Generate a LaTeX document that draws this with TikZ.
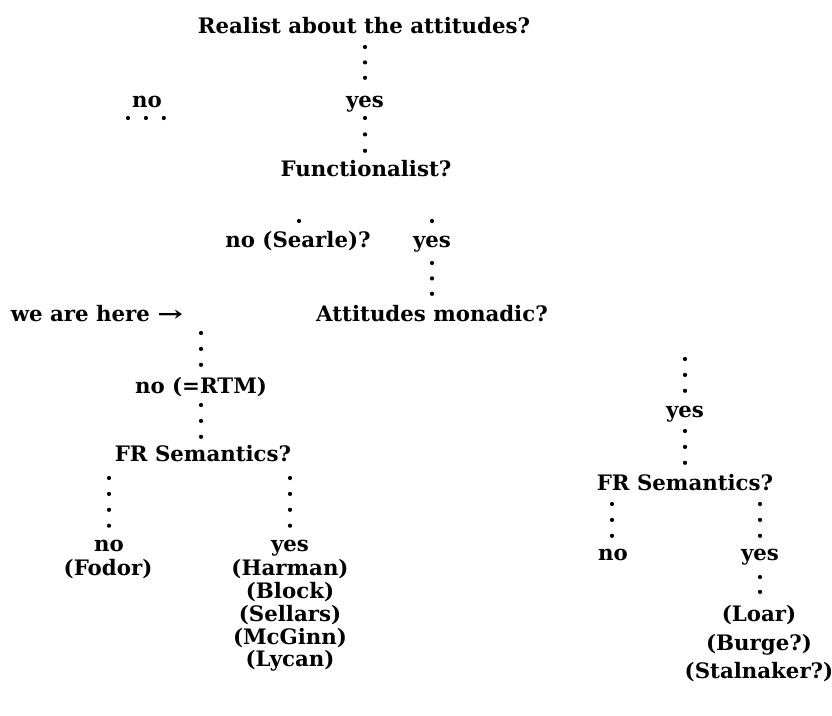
\documentclass[tikz,border=0pt]{standalone}
\usepackage{fontspec}
\setmainfont{DejaVu Serif}
\begin{document}
\begin{tikzpicture}[x=1pt,y=-1pt,
  lbl/.style={inner sep=0pt, anchor=base, font=\fontsize{21.3}{24}\selectfont\bfseries},
  dotrow/.style={line width=4.2pt, line cap=round, dash pattern=on 0pt off #1},
  dotrow/.default=15.9pt,
  onedot/.style={fill=black}]
\useasboundingbox (0,0) rectangle (832,715);
% text nodes
\node[lbl] (realist) at (364,33) {Realist about the attitudes?};
\node[lbl] (noA) at (147,107) {no};
\node[lbl] (yesA) at (365,107) {yes};
\node[lbl] (func) at (366,176) {Functionalist?};
\node[lbl] (noSearle) at (298,247) {no (Searle)?};
\node[lbl] (yesB) at (432,247) {yes};
\node[lbl] (monadic) at (432,321) {Attitudes monadic?};
\node[lbl] (here) at (97,321) {we are here \scalebox{1.45}[1]{→}};
\node[lbl] (noRTM) at (201,393) {no (=RTM)};
\node[lbl] (frL) at (203,461) {FR Semantics?};
\node[lbl] (noL) at (109,551) {no};
\node[lbl] (fodor) at (108,575.5) {(Fodor)};
\node[lbl] (yesL) at (290,551) {yes};
\node[lbl] (harman) at (290,575.5) {(Harman)};
\node[lbl] (block) at (290,598) {(Block)};
\node[lbl] (sellars) at (290,621) {(Sellars)};
\node[lbl] (mcginn) at (290,644) {(McGinn)};
\node[lbl] (lycan) at (290,666.5) {(Lycan)};
\node[lbl] (yesR1) at (685,417) {yes};
\node[lbl] (frR) at (685,490) {FR Semantics?};
\node[lbl] (noR) at (613,560) {no};
\node[lbl] (yesR2) at (760,560) {yes};
\node[lbl] (loar) at (759,621.5) {(Loar)};
\node[lbl] (burge) at (759,650) {(Burge?)};
\node[lbl] (stalnaker) at (759,678) {(Stalnaker?)};
% connector end points
\coordinate (c1a) at (365,47);  \coordinate (c1b) at (365,78);
\coordinate (c2a) at (128,118); \coordinate (c2b) at (164,118);
\coordinate (c3a) at (365,118); \coordinate (c3b) at (365,151);
\coordinate (c4) at (299,221);  \coordinate (c5) at (432,221);
\coordinate (c6a) at (432,263); \coordinate (c6b) at (432,294);
\coordinate (c7a) at (201,333); \coordinate (c7b) at (201,365);
\coordinate (c8a) at (201,405); \coordinate (c8b) at (201,437);
\coordinate (c9a) at (109,478); \coordinate (c9b) at (109,526);
\coordinate (c10a) at (290,478); \coordinate (c10b) at (290,526);
\coordinate (c11a) at (685,359); \coordinate (c11b) at (685,391);
\coordinate (c12a) at (685,431); \coordinate (c12b) at (685,463);
\coordinate (c13a) at (612,504); \coordinate (c13b) at (612,536);
\coordinate (c14a) at (760,504); \coordinate (c14b) at (760,536);
\coordinate (c15a) at (760,577); \coordinate (c15b) at (760,592);
% dotted connectors
\draw[dotrow=15.4pt] (c1a) -- (c1b);
\draw[dotrow=17.9pt] (c2a) -- (c2b);
\draw[dotrow=16.4pt] (c3a) -- (c3b);
\fill[onedot] (c4) circle (2.1pt);
\fill[onedot] (c5) circle (2.1pt);
\draw[dotrow=15.4pt] (c6a) -- (c6b);
\draw[dotrow] (c7a) -- (c7b);
\draw[dotrow] (c8a) -- (c8b);
\draw[dotrow] (c9a) -- (c9b);
\draw[dotrow] (c10a) -- (c10b);
\draw[dotrow] (c11a) -- (c11b);
\draw[dotrow] (c12a) -- (c12b);
\draw[dotrow] (c13a) -- (c13b);
\draw[dotrow] (c14a) -- (c14b);
\draw[dotrow=14.9pt] (c15a) -- (c15b);
\end{tikzpicture}
\end{document}
